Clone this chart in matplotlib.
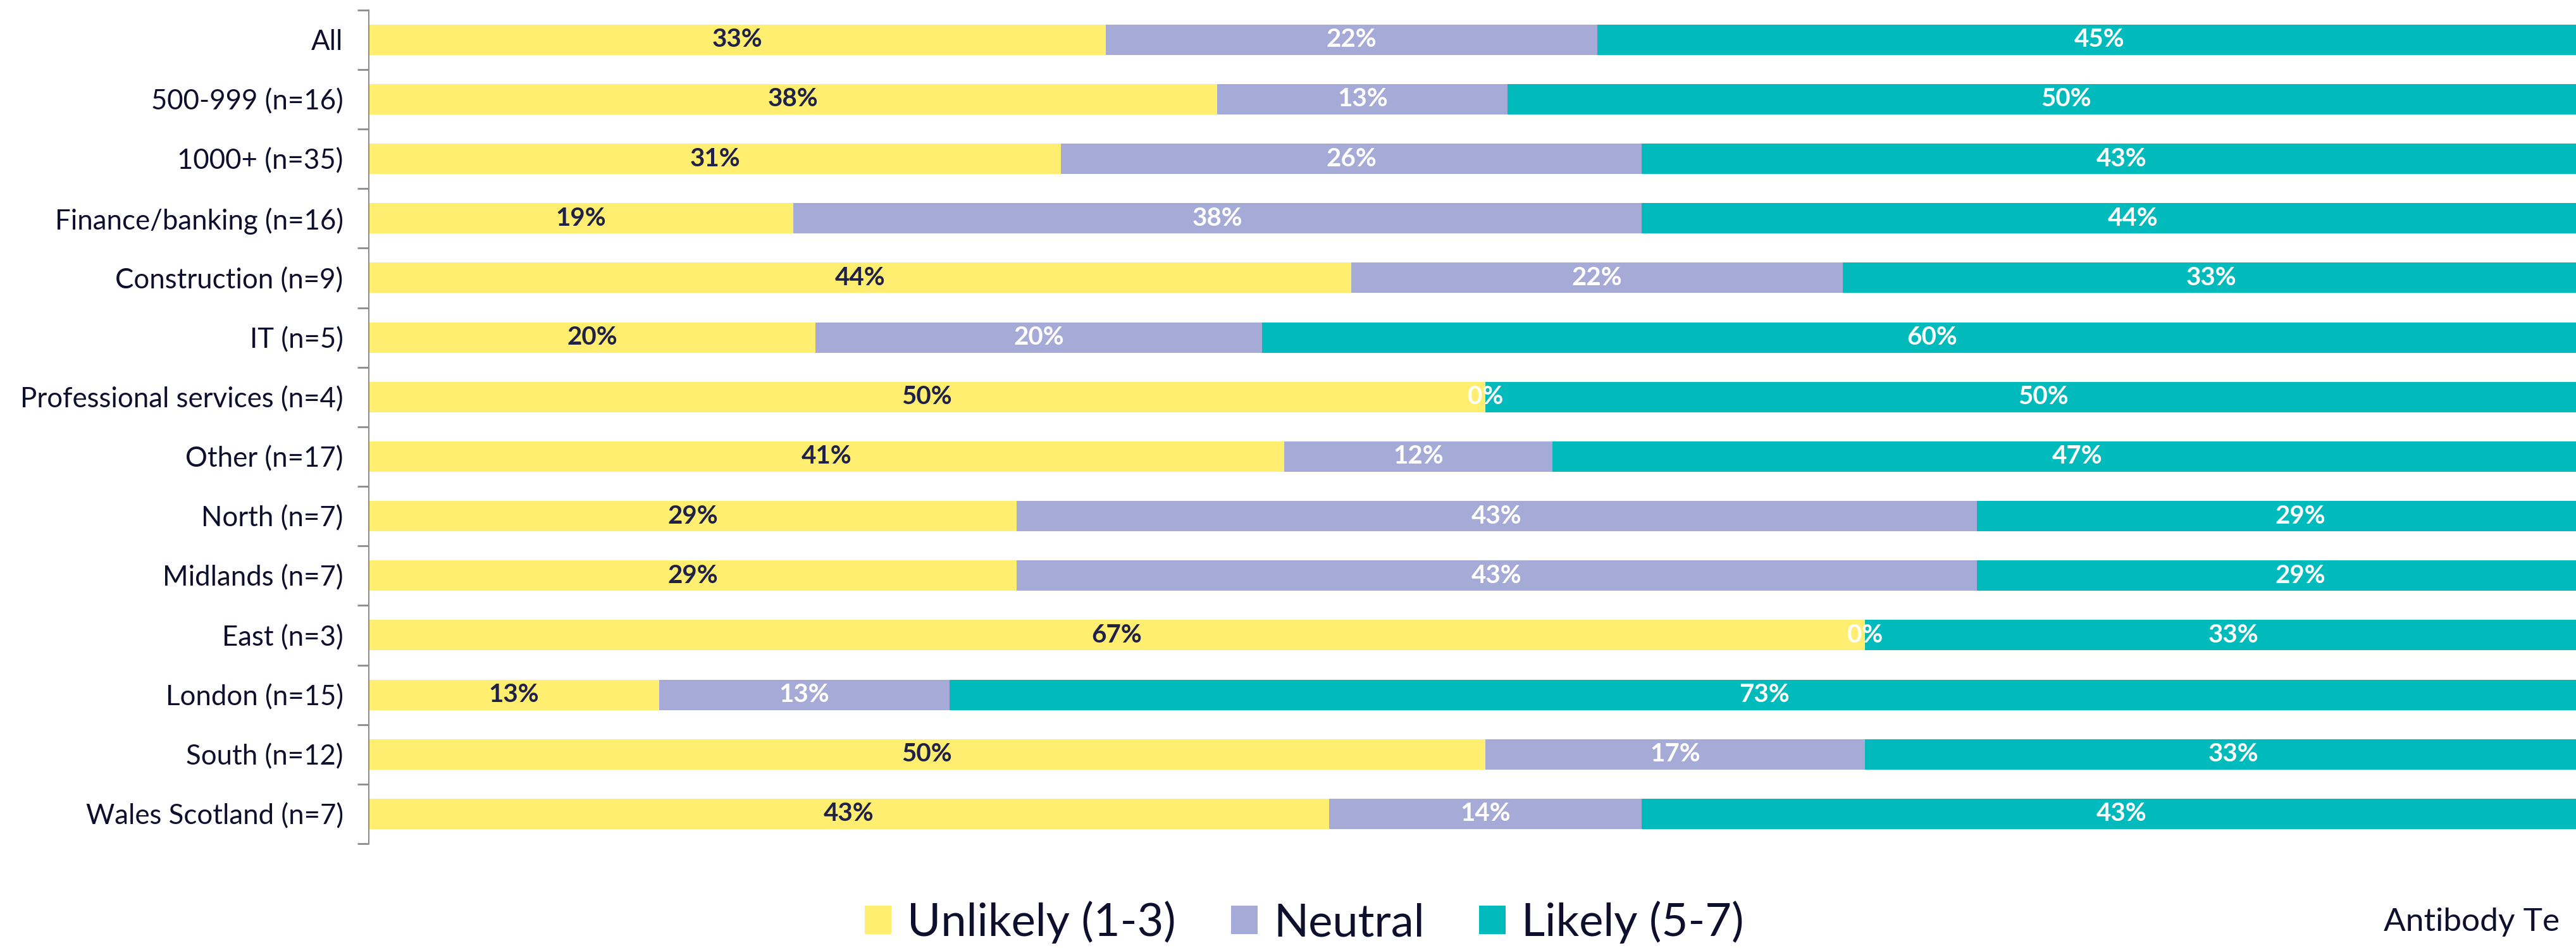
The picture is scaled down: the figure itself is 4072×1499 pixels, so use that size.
import numpy as np
import matplotlib.pyplot as plt
from matplotlib.patches import Patch

plt.rcParams['font.family'] = ['Lato', 'DejaVu Sans']

# Likelihood by segment, percent of respondents
categories = ['All', '500-999 (n=16)', '1000+ (n=35)', 'Finance/banking (n=16)',
              'Construction (n=9)', 'IT (n=5)', 'Professional services (n=4)',
              'Other (n=17)', 'North (n=7)', 'Midlands (n=7)', 'East (n=3)',
              'London (n=15)', 'South (n=12)', 'Wales Scotland (n=7)']
unlikely = [33, 38, 31, 19, 44, 20, 50, 41, 29, 29, 67, 13, 50, 43]
neutral = [22, 13, 26, 38, 22, 20, 0, 12, 43, 43, 0, 13, 17, 14]
likely = [45, 50, 43, 44, 33, 60, 50, 47, 29, 29, 33, 73, 33, 43]

series = [('Unlikely (1-3)', unlikely, '#FFEE70', '#1F2147'),
          ('Neutral', neutral, '#A6AAD6', 'white'),
          ('Likely (5-7)', likely, '#00BABB', 'white')]

navy = '#0E0F2C'

fig = plt.figure(figsize=(40.72, 14.99), dpi=100)
W, H = 4072, 1499
ax = fig.add_axes([583 / W, 1 - 1334 / H, 3530 / W, (1334 - 15.7) / H])

y = np.arange(len(categories))
left = np.zeros(len(categories))
for name, vals, color, tcolor in series:
    vals = np.array(vals, dtype=float)
    ax.barh(y, vals, left=left, height=0.51, color=color, label=name)
    for yi, l, v in zip(y, left, vals):
        ax.text(l + v / 2, yi, f'{int(v)}%', ha='center', va='center',
                fontsize=29, fontweight='bold', color=tcolor)
    left += vals

ax.set_xlim(0, 100)
ax.set_ylim(len(categories) - 0.5, -0.5)

# tick marks between categories, labels at the bar centres
ax.set_yticks(np.arange(len(categories) + 1) - 0.5)
ax.set_yticklabels([])
ax.tick_params(axis='y', which='major', length=13, width=2, color='#8c8c8c')
ax.set_yticks(y, minor=True)
ax.set_yticklabels(categories, minor=True, fontsize=31.5, color=navy)
ax.tick_params(axis='y', which='minor', length=0, pad=29)

ax.set_xticks([])
for side in ['top', 'right', 'bottom']:
    ax.spines[side].set_visible(False)
ax.spines['left'].set_color('#8c8c8c')
ax.spines['left'].set_linewidth(1.5)

handles = [Patch(facecolor=c, label=n) for n, _, c, _ in series]
leg = fig.legend(handles=handles, loc='center', bbox_to_anchor=(0.5064, 0.027),
                 ncol=3, frameon=False, fontsize=52, handlelength=0.58,
                 handleheight=0.58, handletextpad=0.35, columnspacing=1.2)
for t in leg.get_texts():
    t.set_color(navy)

fig.text(3768 / W, 1 - 1472 / H, 'Antibody Te', fontsize=37, color=navy,
         ha='left', va='baseline')

fig.savefig('out.png', dpi=100)
